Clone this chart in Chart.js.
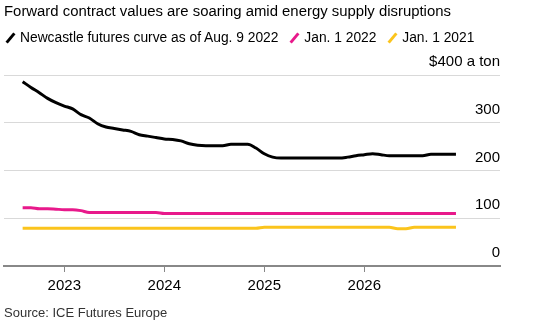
<!DOCTYPE html>
<html>
<head>
<meta charset="utf-8">
<script src="https://cdn.jsdelivr.net/npm/chart.js@4.4.0/dist/chart.umd.min.js"></script>
<style>
  html, body { margin: 0; padding: 0; background: #fff; }
  body { width: 557px; height: 329px; position: relative; overflow: hidden;
         font-family: "Liberation Sans", Arial, sans-serif; color: #000; }
  #wrap { position: absolute; left: 0; top: 0; width: 557px; height: 329px; }
  .title { position: absolute; left: 4px; top: 3px; font-size: 14.9px; white-space: nowrap; }
  .legend { position: absolute; left: 4px; top: 30px; font-size: 13.8px; white-space: nowrap; }
  .legend span.item { display: inline-block; margin-right: 6px; }
  .legend i { display: inline-block; width: 3px; height: 12px; transform: rotate(40deg);
              margin: 0 8px -1px 5px; vertical-align: -1px; }
  .source { position: absolute; left: 4px; top: 305px; font-size: 13px; color: #333; white-space: nowrap; }
</style>
</head>
<body>
<div id="wrap"><canvas id="chart" width="557" height="329"></canvas></div>
<div class="title">Forward contract values are soaring amid energy supply disruptions</div>
<div class="legend">
  <span class="item"><i style="background:#000"></i>Newcastle futures curve as of Aug. 9 2022</span>
  <span class="item"><i style="background:#e8198b"></i>Jan. 1 2022</span>
  <span class="item"><i style="background:#fbc41c"></i>Jan. 1 2021</span>
</div>
<div class="source">Source: ICE Futures Europe</div>
<script>
// contract months, Aug 2022 .. Dec 2026
const months = [
  "2022-08", "2022-09", "2022-10", "2022-11", "2022-12",
  "2023-01", "2023-02", "2023-03", "2023-04", "2023-05", "2023-06", "2023-07", "2023-08", "2023-09", "2023-10", "2023-11", "2023-12",
  "2024-01", "2024-02", "2024-03", "2024-04", "2024-05", "2024-06", "2024-07", "2024-08", "2024-09", "2024-10", "2024-11", "2024-12",
  "2025-01", "2025-02", "2025-03", "2025-04", "2025-05", "2025-06", "2025-07", "2025-08", "2025-09", "2025-10", "2025-11", "2025-12",
  "2026-01", "2026-02", "2026-03", "2026-04", "2026-05", "2026-06", "2026-07", "2026-08", "2026-09", "2026-10", "2026-11", "2026-12"
];

const curveAug2022 = [
  386, 374, 363, 351, 342,
  335, 329, 317, 310, 298, 291, 288, 285, 282, 275, 272, 269,
  266, 265, 262, 256, 253, 252, 252, 252, 255, 255, 255, 247,
  235, 228, 226, 226, 226, 226, 226, 226, 226, 226, 228, 231,
  233, 235, 233, 231, 231, 231, 231, 231, 234, 234, 234, 234
];

const curveJan2022 = [
  122, 122, 120, 120, 119,
  118, 118, 116, 112, 112, 112, 112, 112, 112, 112, 112, 112,
  110, 110, 110, 110, 110, 110, 110, 110, 110, 110, 110, 110,
  110, 110, 110, 110, 110, 110, 110, 110, 110, 110, 110, 110,
  110, 110, 110, 110, 110, 110, 110, 110, 110, 110, 110, 110
];

const curveJan2021 = [
  79, 79, 79, 79, 79,
  79, 79, 79, 79, 79, 79, 79, 79, 79, 79, 79, 79,
  79, 79, 79, 79, 79, 79, 79, 79, 79, 79, 79, 79,
  81, 81, 81, 81, 81, 81, 81, 81, 81, 81, 81, 81,
  81, 81, 81, 81, 78, 78, 81, 81, 81, 81, 81, 81
];

const yearTicks = [2023, 2024, 2025, 2026];
const valueTicks = [0, 100, 200, 300, 400];

// month string -> fractional year for the linear x scale
const toX = (m) => {
  const [y, mo] = m.split("-").map(Number);
  return y + (mo - 1) / 12;
};
const series = (vals) => vals.map((v, i) => ({ x: toX(months[i]), y: v }));

const lineStyle = {
  borderWidth: 3,
  pointRadius: 0,
  tension: 0.3,
  cubicInterpolationMode: "monotone",
  fill: false,
};

new Chart(document.getElementById("chart"), {
  type: "line",
  data: {
    datasets: [
      { label: "Jan. 1 2021", data: series(curveJan2021), borderColor: "#fbc41c", ...lineStyle },
      { label: "Jan. 1 2022", data: series(curveJan2022), borderColor: "#e8198b", ...lineStyle },
      { label: "Newcastle futures curve as of Aug. 9 2022", data: series(curveAug2022), borderColor: "#000", ...lineStyle },
    ],
  },
  options: {
    responsive: false,
    animation: false,
    events: [],
    layout: { padding: { left: 4, right: 57, top: 75, bottom: 0 } },
    plugins: { legend: { display: false }, tooltip: { enabled: false } },
    scales: {
      x: {
        type: "linear",
        min: 2022.397,
        max: 2027.357,
        afterBuildTicks: (s) => { s.ticks = yearTicks.map((v) => ({ value: v })); },
        afterFit: (s) => { s.height = 63; },
        grid: { drawOnChartArea: false, drawTicks: true, tickLength: 6, color: "#888", lineWidth: 1 },
        border: { display: true, color: "#888", width: 2 },
        ticks: {
          color: "#000",
          padding: 5,
          maxRotation: 0,
          font: { family: "'Liberation Sans', Arial, sans-serif", size: 15 },
          callback: (v) => String(v),
        },
      },
      y: {
        position: "right",
        min: 0,
        max: 400,
        afterBuildTicks: (s) => { s.ticks = valueTicks.map((v) => ({ value: v })); },
        afterFit: (s) => { s.width = 0; },
        grid: {
          drawTicks: false,
          color: (c) => (c.tick && c.tick.value === 0 ? "rgba(0,0,0,0)" : "#d9d9d9"),
          lineWidth: 1,
        },
        border: { display: false },
        ticks: {
          mirror: true,
          padding: 0,
          labelOffset: -13,
          color: "#000",
          font: { family: "'Liberation Sans', Arial, sans-serif", size: 15 },
          callback: (v) => (v === 400 ? "$400 a ton" : String(v)),
        },
      },
    },
  },
});
</script>
</body>
</html>
